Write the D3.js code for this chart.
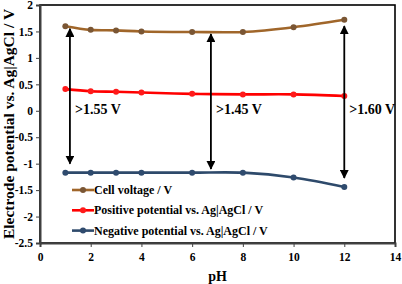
<!DOCTYPE html>
<meta charset="utf-8">
<script src="https://d3js.org/d3.v7.min.js"></script>
<style>
  body { margin: 0; background: #fff; }
</style>
<div id="chart"></div>
<script>
  // data
  var ph = [1, 2, 3, 4, 6, 8, 10, 12];
  var cellVoltage = [1.60, 1.53, 1.52, 1.50, 1.49, 1.49, 1.58, 1.72];
  var positive = [0.41, 0.37, 0.36, 0.345, 0.32, 0.31, 0.31, 0.28];
  var negative = [-1.17, -1.17, -1.17, -1.17, -1.17, -1.17, -1.26, -1.44];
  var xTicks = [0, 2, 4, 6, 8, 10, 12, 14];
  var yTicks = [-2.5, -2, -1.5, -1, -0.5, 0, 0.5, 1, 1.5, 2];
  var seriesNames = ["Cell voltage / V", "Positive potential vs. Ag|AgCl / V", "Negative potential vs. Ag|AgCl / V"];
  var lineColors = ["#A0662A", "#FF0000", "#2E4A6B"];
  var markColors = ["#7A5634", "#FF1A1A", "#2F4B6E"];
  // gaps marked by the double arrows
  var arrowPh = [1.18, 6.74, 12];
  var arrowTop = [1.55, 1.45, 1.60];
  var arrowBottom = [-1.0, -1.1, -1.27];
  var arrowLabels = [">1.55 V", ">1.45 V", ">1.60 V"];

  var FONT = "'Liberation Serif', 'Times New Roman', serif";
  var W = 402, H = 284;
  var margin = {top: 5, right: 7, bottom: 41, left: 40},
      width = W - margin.left - margin.right,
      height = H - margin.top - margin.bottom;

  var svg = d3.select("#chart").append("svg")
      .attr("width", W).attr("height", H)
      .attr("font-family", FONT).attr("font-weight", "bold");

  var defs = svg.append("defs");
  defs.append("marker")
      .attr("id", "head")
      .attr("viewBox", "0 0 10 10")
      .attr("refX", 9).attr("refY", 5)
      .attr("markerWidth", 5).attr("markerHeight", 5)
      .attr("orient", "auto-start-reverse")
    .append("path")
      .attr("d", "M0,0 L10,5 L0,10 Z")
      .attr("fill", "#000");

  var g = svg.append("g")
      .attr("transform", "translate(" + margin.left + "," + margin.top + ")");

  var x = d3.scaleLinear().domain([0, 14]).range([0, width]);
  var y = d3.scaleLinear().domain([-2.5, 2]).range([height, 0]);

  // frame
  g.append("rect")
      .attr("width", width).attr("height", height)
      .attr("fill", "none").attr("stroke", "#000").attr("stroke-width", 1.6);

  // axes
  var xAxis = g.append("g")
      .attr("transform", "translate(0," + height + ")")
      .call(d3.axisBottom(x).tickValues(xTicks).tickSize(4).tickPadding(6).tickFormat(d3.format("d")));
  var yAxis = g.append("g")
      .call(d3.axisLeft(y).tickValues(yTicks).tickSize(4).tickPadding(3).tickFormat(function(d) { return d; }));
  [xAxis, yAxis].forEach(function(a) {
    a.attr("font-family", FONT).attr("font-size", 11.5);
    a.select(".domain").attr("stroke", "#404040").attr("stroke-width", 2);
    a.selectAll(".tick line").attr("stroke", "#404040");
    a.selectAll("text").attr("fill", "#000");
  });

  // axis titles
  svg.append("text")
      .attr("x", margin.left + x(7)).attr("y", 281)
      .attr("text-anchor", "middle").attr("font-size", 14)
      .text("pH");
  svg.append("text")
      .attr("transform", "translate(14," + (margin.top + height / 2) + ") rotate(-90)")
      .attr("text-anchor", "middle").attr("font-size", 15.5)
      .text("Electrode potential vs. Ag|AgCl / V");

  // series
  var allSeries = [cellVoltage, positive, negative];
  var line = d3.line()
      .x(function(d, i) { return x(ph[i]); })
      .y(function(d) { return y(d); })
      .curve(d3.curveCatmullRom.alpha(0.5));

  allSeries.forEach(function(s, k) {
    g.append("path").datum(s)
        .attr("d", line)
        .attr("fill", "none")
        .attr("stroke", lineColors[k])
        .attr("stroke-width", 2.6);
    g.selectAll(".pt" + k).data(s).enter().append("circle")
        .attr("class", "pt" + k)
        .attr("cx", function(d, i) { return x(ph[i]); })
        .attr("cy", function(d) { return y(d); })
        .attr("r", 3)
        .attr("fill", markColors[k]);
  });

  // double arrows and labels
  arrowPh.forEach(function(p, i) {
    g.append("line")
        .attr("x1", x(p)).attr("x2", x(p))
        .attr("y1", y(arrowTop[i])).attr("y2", y(arrowBottom[i]))
        .attr("stroke", "#000").attr("stroke-width", 1.8)
        .attr("marker-start", "url(#head)")
        .attr("marker-end", "url(#head)");
    g.append("text")
        .attr("x", x(p) + 5).attr("y", y(0) + 3)
        .attr("font-size", 14)
        .text(arrowLabels[i]);
  });

  // legend
  var legend = g.append("g").attr("transform", "translate(32,185)");
  seriesNames.forEach(function(name, i) {
    var row = legend.append("g").attr("transform", "translate(0," + (i * 20.3) + ")");
    row.append("line")
        .attr("x1", 0).attr("x2", 22)
        .attr("stroke", lineColors[i]).attr("stroke-width", 2.6);
    row.append("circle").attr("cx", 11).attr("r", 3).attr("fill", markColors[i]);
    row.append("text")
        .attr("x", 22).attr("y", 4)
        .attr("font-size", 12)
        .text(name);
  });
</script>
